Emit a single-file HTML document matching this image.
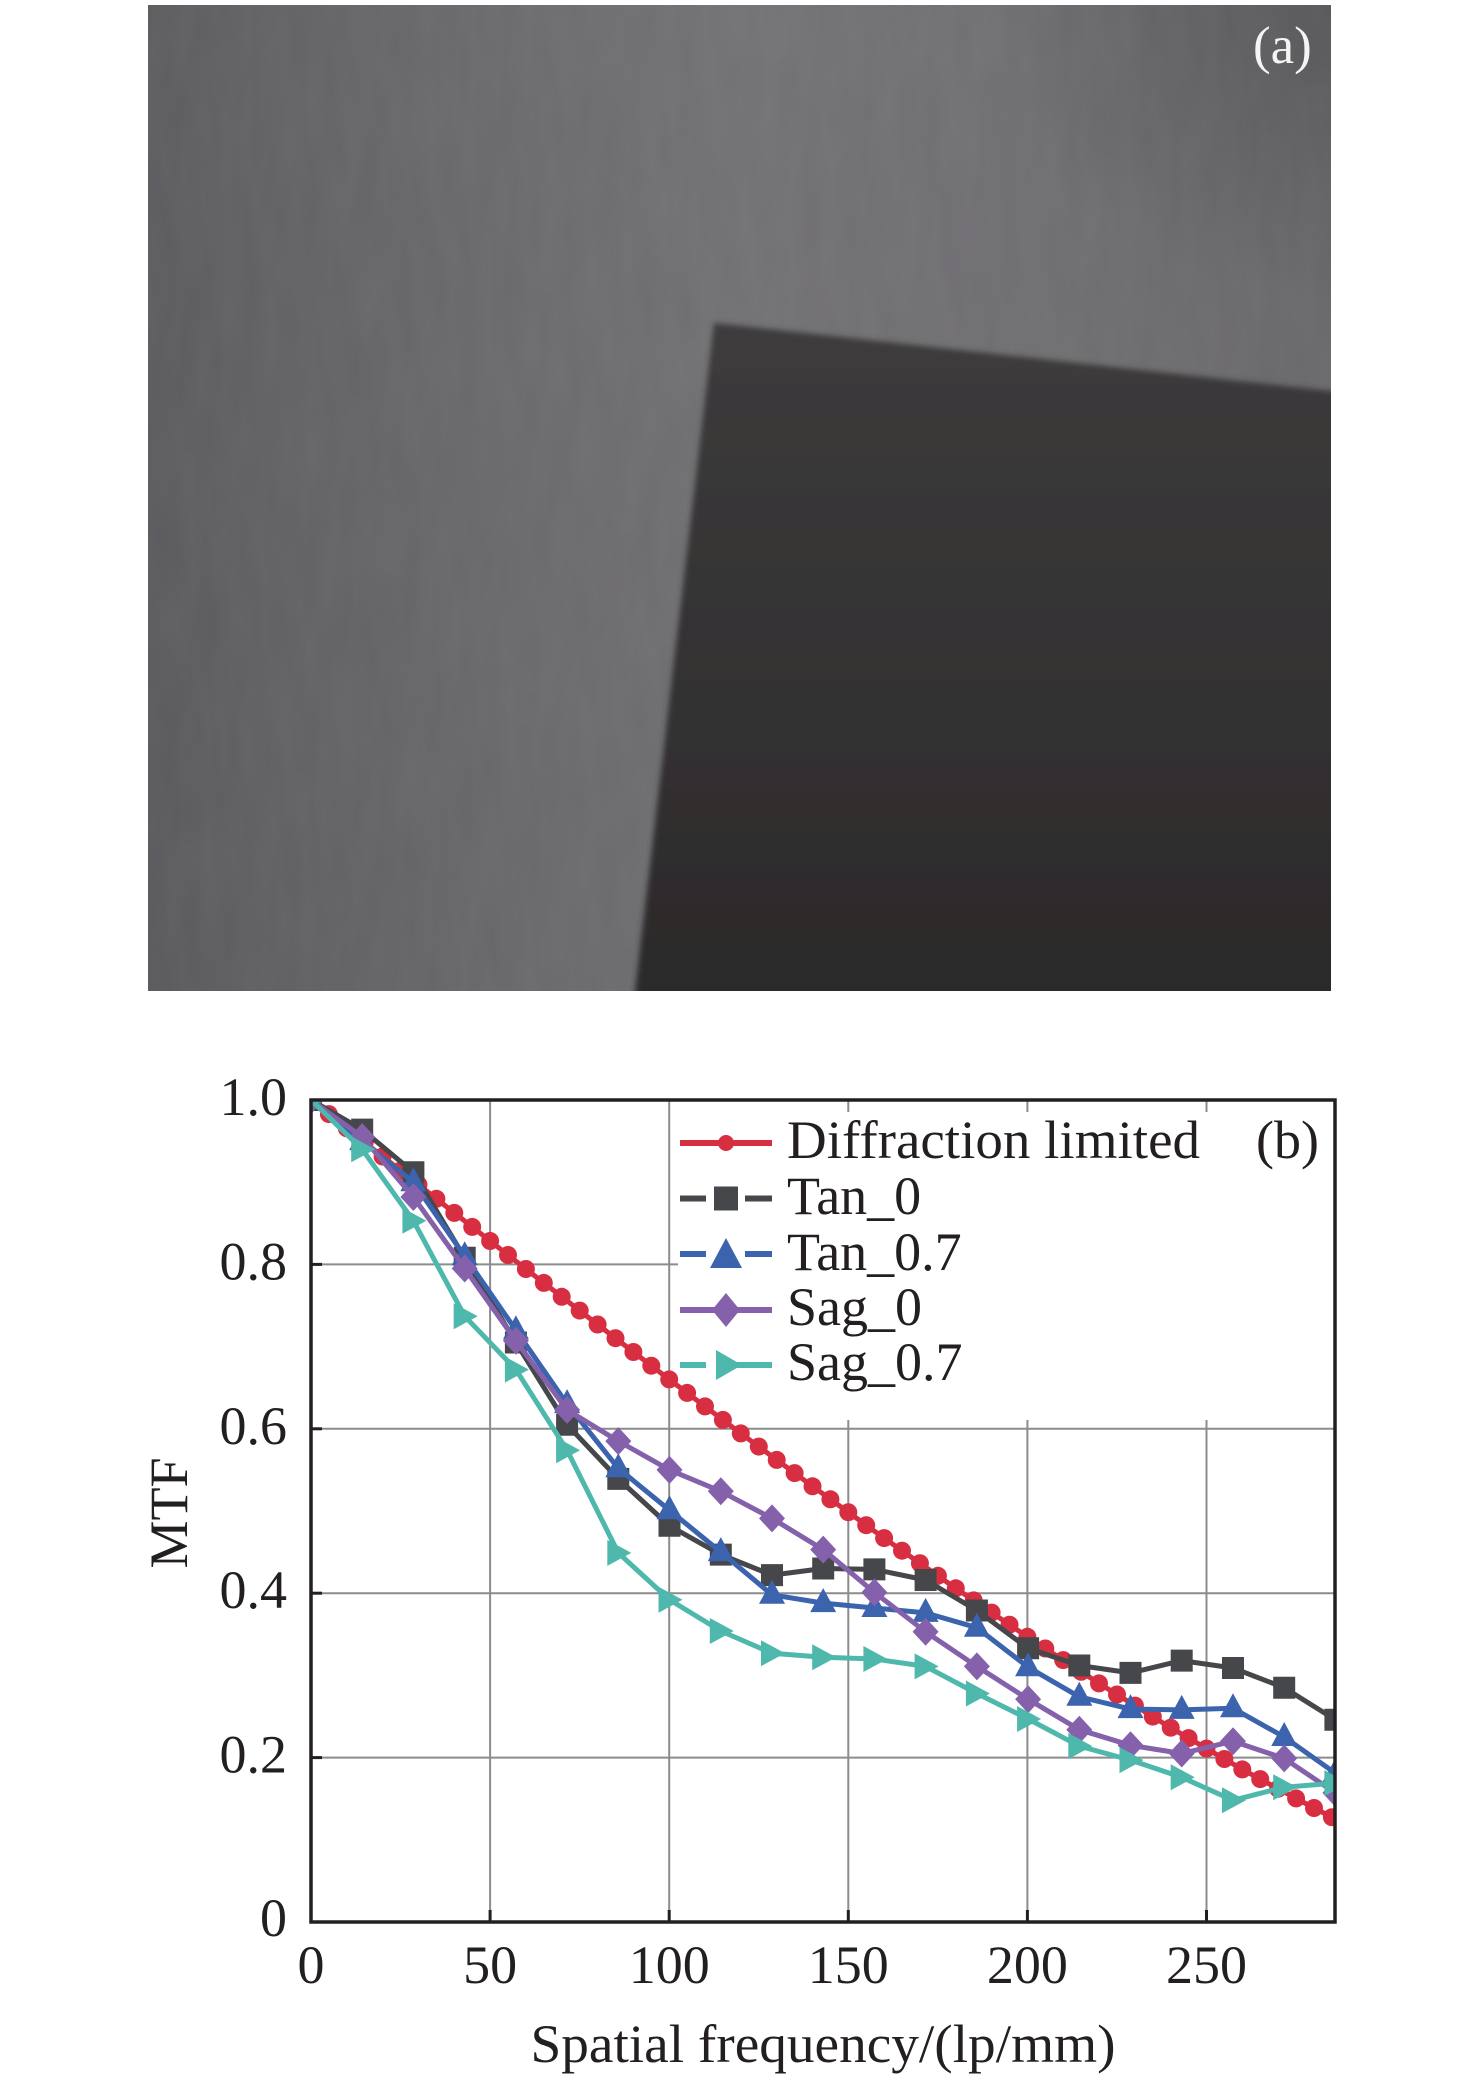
<!DOCTYPE html>
<html>
<head>
<meta charset="utf-8">
<style>
  html, body { margin: 0; padding: 0; background: #ffffff; }
  svg { display: block; }
  text { font-family: "Liberation Serif", "Times New Roman", serif; }
</style>
</head>
<body>
<svg width="1476" height="2080" viewBox="0 0 1476 2080" xmlns="http://www.w3.org/2000/svg">
  <defs>
    <linearGradient id="bgH" x1="0" y1="0" x2="1" y2="0">
      <stop offset="0" stop-color="#5e5d60"/>
      <stop offset="0.12" stop-color="#656467"/>
      <stop offset="0.35" stop-color="#6f6e71"/>
      <stop offset="0.5" stop-color="#747376"/>
      <stop offset="0.75" stop-color="#727174"/>
      <stop offset="1" stop-color="#6b6a6d"/>
    </linearGradient>
    <radialGradient id="corner" cx="1" cy="0" r="0.3">
      <stop offset="0" stop-color="#3e3d3f" stop-opacity="0.4"/>
      <stop offset="1" stop-color="#3e3d3f" stop-opacity="0"/>
    </radialGradient>
    <linearGradient id="bgV" x1="0" y1="0" x2="0" y2="1">
      <stop offset="0" stop-color="#000" stop-opacity="0.02"/>
      <stop offset="1" stop-color="#000" stop-opacity="0.05"/>
    </linearGradient>
    <linearGradient id="dark" x1="0" y1="0" x2="0" y2="1">
      <stop offset="0" stop-color="#3d3b3c"/>
      <stop offset="0.5" stop-color="#343233"/>
      <stop offset="1" stop-color="#2b292a"/>
    </linearGradient>
    <filter id="blur" x="-5%" y="-5%" width="110%" height="110%">
      <feGaussianBlur stdDeviation="3"/>
    </filter>
    <filter id="noise" x="0" y="0" width="100%" height="100%">
      <feTurbulence type="fractalNoise" baseFrequency="0.05 0.012" numOctaves="2" seed="5"/>
      <feColorMatrix type="matrix" values="0 0 0 0 0.5  0 0 0 0 0.5  0 0 0 0 0.5  0 0 0 0.08 0"/>
    </filter>
    <clipPath id="photoClip"><rect x="148" y="5" width="1183" height="986"/></clipPath>
    <clipPath id="plotClip"><rect x="311" y="1100" width="1024" height="822"/></clipPath>

    <path id="sq" d="M-11,-11h22v22h-22z"/>
    <path id="tri" d="M0,-15L13,9L-13,9z"/>
    <path id="dia" d="M0,-14L13,0L0,14L-13,0z"/>
    <path id="rtri" d="M13,0L-11,-13L-11,13z"/>
  </defs>

  <!-- ===== Panel (a): photo ===== -->
  <g clip-path="url(#photoClip)">
    <rect x="148" y="5" width="1183" height="986" fill="url(#bgH)"/>
    <rect x="148" y="5" width="1183" height="986" fill="url(#bgV)"/>
    <rect x="148" y="5" width="1183" height="986" fill="url(#corner)"/>
    <rect x="148" y="5" width="1183" height="986" filter="url(#noise)"/>
    <polygon points="714,323 1340,392 1340,1000 634,1000" fill="url(#dark)" filter="url(#blur)"/>
  </g>
  <text x="1253" y="63" font-size="53" fill="#f4f4f4">(a)</text>

  <!-- ===== Panel (b): chart ===== -->
  <g stroke="#8c8c8c" stroke-width="2">
    <line x1="490.1" y1="1100" x2="490.1" y2="1922"/>
    <line x1="669.2" y1="1100" x2="669.2" y2="1922"/>
    <line x1="848.3" y1="1100" x2="848.3" y2="1922"/>
    <line x1="1027.4" y1="1100" x2="1027.4" y2="1922"/>
    <line x1="1206.5" y1="1100" x2="1206.5" y2="1922"/>
    <line x1="311" y1="1757.6" x2="1335" y2="1757.6"/>
    <line x1="311" y1="1593.2" x2="1335" y2="1593.2"/>
    <line x1="311" y1="1428.8" x2="1335" y2="1428.8"/>
    <line x1="311" y1="1264.4" x2="1335" y2="1264.4"/>
  </g>

  <rect x="678" y="1102" width="656" height="318" fill="#ffffff"/>

  <g clip-path="url(#plotClip)">
    <polyline fill="none" stroke="#d72f41" stroke-width="5" stroke-linejoin="round"
      points="311,1100 382.6,1156.5 454.3,1212.9 525.9,1269 597.6,1324.5 669.2,1379.4 740.8,1433.4 812.5,1486.3 884.1,1538.1 955.8,1588.3 1027.4,1636.8 1099,1683.4 1170.7,1727.7 1242.3,1769.4 1314,1808 1335.5,1819"/>
    <g fill="#d72f41">
      <circle cx="311.0" cy="1100.0" r="9"/><circle cx="328.9" cy="1114.1" r="9"/><circle cx="346.8" cy="1128.3" r="9"/><circle cx="364.7" cy="1142.4" r="9"/>
      <circle cx="382.6" cy="1156.5" r="9"/><circle cx="400.6" cy="1170.6" r="9"/><circle cx="418.5" cy="1184.7" r="9"/><circle cx="436.4" cy="1198.8" r="9"/>
      <circle cx="454.3" cy="1212.9" r="9"/><circle cx="472.2" cy="1226.9" r="9"/><circle cx="490.1" cy="1241.0" r="9"/><circle cx="508.0" cy="1255.0" r="9"/>
      <circle cx="525.9" cy="1269.0" r="9"/><circle cx="543.8" cy="1282.9" r="9"/><circle cx="561.7" cy="1296.8" r="9"/><circle cx="579.7" cy="1310.6" r="9"/>
      <circle cx="597.6" cy="1324.5" r="9"/><circle cx="615.5" cy="1338.2" r="9"/><circle cx="633.4" cy="1352.0" r="9"/><circle cx="651.3" cy="1365.7" r="9"/>
      <circle cx="669.2" cy="1379.4" r="9"/><circle cx="687.1" cy="1392.9" r="9"/><circle cx="705.0" cy="1406.4" r="9"/><circle cx="722.9" cy="1419.9" r="9"/>
      <circle cx="740.8" cy="1433.4" r="9"/><circle cx="758.8" cy="1446.6" r="9"/><circle cx="776.7" cy="1459.9" r="9"/><circle cx="794.6" cy="1473.1" r="9"/>
      <circle cx="812.5" cy="1486.3" r="9"/><circle cx="830.4" cy="1499.3" r="9"/><circle cx="848.3" cy="1512.2" r="9"/><circle cx="866.2" cy="1525.2" r="9"/>
      <circle cx="884.1" cy="1538.1" r="9"/><circle cx="902.0" cy="1550.7" r="9"/><circle cx="919.9" cy="1563.2" r="9"/><circle cx="937.9" cy="1575.8" r="9"/>
      <circle cx="955.8" cy="1588.3" r="9"/><circle cx="973.7" cy="1600.4" r="9"/><circle cx="991.6" cy="1612.6" r="9"/><circle cx="1009.5" cy="1624.7" r="9"/>
      <circle cx="1027.4" cy="1636.8" r="9"/><circle cx="1045.3" cy="1648.5" r="9"/><circle cx="1063.2" cy="1660.1" r="9"/><circle cx="1081.1" cy="1671.8" r="9"/>
      <circle cx="1099.0" cy="1683.4" r="9"/><circle cx="1117.0" cy="1694.5" r="9"/><circle cx="1134.9" cy="1705.6" r="9"/><circle cx="1152.8" cy="1716.6" r="9"/>
      <circle cx="1170.7" cy="1727.7" r="9"/><circle cx="1188.6" cy="1738.1" r="9"/><circle cx="1206.5" cy="1748.6" r="9"/><circle cx="1224.4" cy="1759.0" r="9"/>
      <circle cx="1242.3" cy="1769.4" r="9"/><circle cx="1260.2" cy="1779.1" r="9"/><circle cx="1278.1" cy="1788.7" r="9"/><circle cx="1296.1" cy="1798.4" r="9"/>
      <circle cx="1314.0" cy="1808.0" r="9"/><circle cx="1331.9" cy="1817.2" r="9"/>
    </g>

    <polyline fill="none" stroke="#46474b" stroke-width="5" stroke-linejoin="round"
      points="311,1100 362.2,1129.6 413.4,1172.3 464.7,1257.8 515.9,1342.5 567.1,1424.7 618.3,1478.9 669.5,1525.8 720.8,1554.6 772,1575.1 823.2,1568.5 874.4,1569.4 925.6,1580 976.9,1610.5 1028.1,1648.3 1079.3,1665.5 1130.5,1672.9 1181.7,1660.6 1233,1668 1284.2,1687.7 1335.4,1719.8"/>
    <g fill="#46474b">
      <use href="#sq" x="311" y="1100"/><use href="#sq" x="362.2" y="1129.6"/><use href="#sq" x="413.4" y="1172.3"/><use href="#sq" x="464.7" y="1257.8"/>
      <use href="#sq" x="515.9" y="1342.5"/><use href="#sq" x="567.1" y="1424.7"/><use href="#sq" x="618.3" y="1478.9"/><use href="#sq" x="669.5" y="1525.8"/>
      <use href="#sq" x="720.8" y="1554.6"/><use href="#sq" x="772" y="1575.1"/><use href="#sq" x="823.2" y="1568.5"/><use href="#sq" x="874.4" y="1569.4"/>
      <use href="#sq" x="925.6" y="1580"/><use href="#sq" x="976.9" y="1610.5"/><use href="#sq" x="1028.1" y="1648.3"/><use href="#sq" x="1079.3" y="1665.5"/>
      <use href="#sq" x="1130.5" y="1672.9"/><use href="#sq" x="1181.7" y="1660.6"/><use href="#sq" x="1233" y="1668"/><use href="#sq" x="1284.2" y="1687.7"/>
      <use href="#sq" x="1335.4" y="1719.8"/>
    </g>

    <polyline fill="none" stroke="#3b63ae" stroke-width="5" stroke-linejoin="round"
      points="311,1100 362.2,1141.1 413.4,1182.2 464.7,1256.2 515.9,1330.2 567.1,1404.1 618.3,1468.3 669.5,1510.2 720.8,1552.1 772,1594.8 823.2,1603.1 874.4,1608 925.6,1612.9 976.9,1627.7 1028.1,1667.2 1079.3,1696.8 1130.5,1709.1 1181.7,1709.9 1233,1708.3 1284.2,1737 1335.4,1773.2"/>
    <g fill="#3b63ae">
      <use href="#tri" x="311" y="1100"/><use href="#tri" x="362.2" y="1141.1"/><use href="#tri" x="413.4" y="1182.2"/><use href="#tri" x="464.7" y="1256.2"/>
      <use href="#tri" x="515.9" y="1330.2"/><use href="#tri" x="567.1" y="1404.1"/><use href="#tri" x="618.3" y="1468.3"/><use href="#tri" x="669.5" y="1510.2"/>
      <use href="#tri" x="720.8" y="1552.1"/><use href="#tri" x="772" y="1594.8"/><use href="#tri" x="823.2" y="1603.1"/><use href="#tri" x="874.4" y="1608"/>
      <use href="#tri" x="925.6" y="1612.9"/><use href="#tri" x="976.9" y="1627.7"/><use href="#tri" x="1028.1" y="1667.2"/><use href="#tri" x="1079.3" y="1696.8"/>
      <use href="#tri" x="1130.5" y="1709.1"/><use href="#tri" x="1181.7" y="1709.9"/><use href="#tri" x="1233" y="1708.3"/><use href="#tri" x="1284.2" y="1737"/>
      <use href="#tri" x="1335.4" y="1773.2"/>
    </g>

    <polyline fill="none" stroke="#8561ac" stroke-width="5" stroke-linejoin="round"
      points="311,1100 362.2,1137 413.4,1197 464.7,1268.5 515.9,1340.8 567.1,1409.9 618.3,1441.1 669.5,1469.9 720.8,1491.3 772,1518.4 823.2,1549.6 874.4,1592.4 925.6,1631.8 976.9,1666.4 1028.1,1699.2 1079.3,1729.7 1130.5,1745.3 1181.7,1753.5 1233,1741.2 1284.2,1758.4 1335.4,1792.9"/>
    <g fill="#8561ac">
      <use href="#dia" x="311" y="1100"/><use href="#dia" x="362.2" y="1137"/><use href="#dia" x="413.4" y="1197"/><use href="#dia" x="464.7" y="1268.5"/>
      <use href="#dia" x="515.9" y="1340.8"/><use href="#dia" x="567.1" y="1409.9"/><use href="#dia" x="618.3" y="1441.1"/><use href="#dia" x="669.5" y="1469.9"/>
      <use href="#dia" x="720.8" y="1491.3"/><use href="#dia" x="772" y="1518.4"/><use href="#dia" x="823.2" y="1549.6"/><use href="#dia" x="874.4" y="1592.4"/>
      <use href="#dia" x="925.6" y="1631.8"/><use href="#dia" x="976.9" y="1666.4"/><use href="#dia" x="1028.1" y="1699.2"/><use href="#dia" x="1079.3" y="1729.7"/>
      <use href="#dia" x="1130.5" y="1745.3"/><use href="#dia" x="1181.7" y="1753.5"/><use href="#dia" x="1233" y="1741.2"/><use href="#dia" x="1284.2" y="1758.4"/>
      <use href="#dia" x="1335.4" y="1792.9"/>
    </g>

    <polyline fill="none" stroke="#4fb8ad" stroke-width="5" stroke-linejoin="round"
      points="311,1100 362.2,1149.3 413.4,1220.8 464.7,1316.2 515.9,1369.6 567.1,1450.2 618.3,1552.9 669.5,1599.8 720.8,1631 772,1653.2 823.2,1657.3 874.4,1659 925.6,1666.4 976.9,1693.5 1028.1,1719 1079.3,1746.1 1130.5,1760.1 1181.7,1777.3 1233,1800.3 1284.2,1787.2 1335.4,1783.1"/>
    <g fill="#4fb8ad">
      <use href="#rtri" x="311" y="1100"/><use href="#rtri" x="362.2" y="1149.3"/><use href="#rtri" x="413.4" y="1220.8"/><use href="#rtri" x="464.7" y="1316.2"/>
      <use href="#rtri" x="515.9" y="1369.6"/><use href="#rtri" x="567.1" y="1450.2"/><use href="#rtri" x="618.3" y="1552.9"/><use href="#rtri" x="669.5" y="1599.8"/>
      <use href="#rtri" x="720.8" y="1631"/><use href="#rtri" x="772" y="1653.2"/><use href="#rtri" x="823.2" y="1657.3"/><use href="#rtri" x="874.4" y="1659"/>
      <use href="#rtri" x="925.6" y="1666.4"/><use href="#rtri" x="976.9" y="1693.5"/><use href="#rtri" x="1028.1" y="1719"/><use href="#rtri" x="1079.3" y="1746.1"/>
      <use href="#rtri" x="1130.5" y="1760.1"/><use href="#rtri" x="1181.7" y="1777.3"/><use href="#rtri" x="1233" y="1800.3"/><use href="#rtri" x="1284.2" y="1787.2"/>
      <use href="#rtri" x="1335.4" y="1783.1"/>
    </g>
  </g>

  <g>
    <line x1="680" y1="1143" x2="772" y2="1143" stroke="#d72f41" stroke-width="6"/>
    <circle cx="726" cy="1143" r="8" fill="#d72f41"/>
    <text x="787" y="1158" font-size="54" fill="#231f20" textLength="413" lengthAdjust="spacingAndGlyphs">Diffraction limited</text>

    <line x1="680" y1="1198.5" x2="706" y2="1198.5" stroke="#46474b" stroke-width="6"/>
    <line x1="745" y1="1198.5" x2="772" y2="1198.5" stroke="#46474b" stroke-width="6"/>
    <rect x="714" y="1186.5" width="24" height="24" fill="#46474b"/>
    <text x="787" y="1214" font-size="54" fill="#231f20">Tan_0</text>

    <line x1="680" y1="1254" x2="706" y2="1254" stroke="#3b63ae" stroke-width="6"/>
    <line x1="745" y1="1254" x2="772" y2="1254" stroke="#3b63ae" stroke-width="6"/>
    <path d="M726,1238L742,1268L710,1268z" fill="#3b63ae"/>
    <text x="787" y="1270" font-size="54" fill="#231f20">Tan_0.7</text>

    <line x1="680" y1="1310" x2="772" y2="1310" stroke="#8561ac" stroke-width="6"/>
    <path d="M726,1293L740,1310L726,1327L712,1310z" fill="#8561ac"/>
    <text x="787" y="1325" font-size="54" fill="#231f20">Sag_0</text>

    <line x1="680" y1="1365" x2="706" y2="1365" stroke="#4fb8ad" stroke-width="6"/>
    <line x1="728" y1="1365" x2="772" y2="1365" stroke="#4fb8ad" stroke-width="6"/>
    <path d="M742,1365L716,1350L716,1380z" fill="#4fb8ad"/>
    <text x="787" y="1380" font-size="54" fill="#231f20">Sag_0.7</text>

    <text x="1256" y="1158" font-size="54" fill="#231f20">(b)</text>
  </g>

  <g stroke="#231f20" stroke-width="3">
    <line x1="490.1" y1="1922" x2="490.1" y2="1910"/>
    <line x1="669.2" y1="1922" x2="669.2" y2="1910"/>
    <line x1="848.3" y1="1922" x2="848.3" y2="1910"/>
    <line x1="1027.4" y1="1922" x2="1027.4" y2="1910"/>
    <line x1="1206.5" y1="1922" x2="1206.5" y2="1910"/>
    <line x1="311" y1="1757.6" x2="322" y2="1757.6"/>
    <line x1="311" y1="1593.2" x2="322" y2="1593.2"/>
    <line x1="311" y1="1428.8" x2="322" y2="1428.8"/>
    <line x1="311" y1="1264.4" x2="322" y2="1264.4"/>
  </g>
  <g stroke="#8c8c8c" stroke-width="2">
    <line x1="848.3" y1="1100" x2="848.3" y2="1112"/>
    <line x1="1027.4" y1="1100" x2="1027.4" y2="1112"/>
    <line x1="1206.5" y1="1100" x2="1206.5" y2="1112"/>
  </g>

  <rect x="311" y="1100" width="1024" height="822" fill="none" stroke="#231f20" stroke-width="3.5"/>

  <g font-size="54" fill="#231f20" text-anchor="end">
    <text x="287" y="1115">1.0</text>
    <text x="287" y="1279.4">0.8</text>
    <text x="287" y="1443.8">0.6</text>
    <text x="287" y="1608.2">0.4</text>
    <text x="287" y="1772.6">0.2</text>
    <text x="287" y="1936">0</text>
  </g>
  <g font-size="54" fill="#231f20" text-anchor="middle">
    <text x="311" y="1983">0</text>
    <text x="490.1" y="1983">50</text>
    <text x="669.2" y="1983">100</text>
    <text x="848.3" y="1983">150</text>
    <text x="1027.4" y="1983">200</text>
    <text x="1206.5" y="1983">250</text>
  </g>

  <text x="823" y="2062" font-size="54" fill="#231f20" text-anchor="middle" textLength="585" lengthAdjust="spacingAndGlyphs">Spatial frequency/(lp/mm)</text>
  <text transform="translate(187,1513) rotate(-90)" x="0" y="0" font-size="54" fill="#231f20" text-anchor="middle" textLength="111" lengthAdjust="spacingAndGlyphs">MTF</text>
</svg>
</body>
</html>
